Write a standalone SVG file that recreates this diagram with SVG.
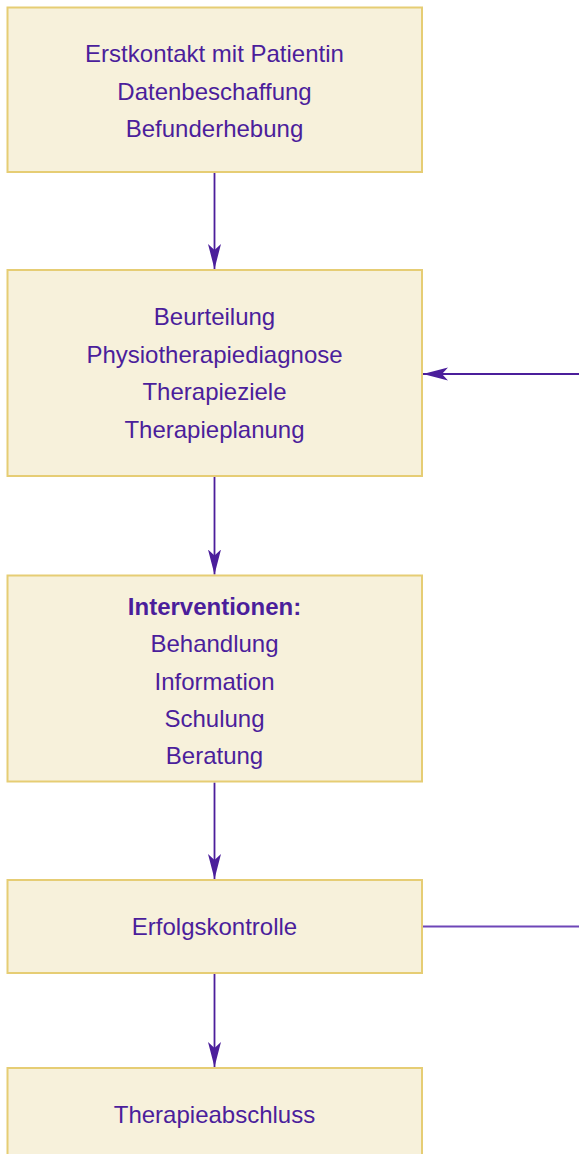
<svg xmlns="http://www.w3.org/2000/svg" width="579" height="1154" viewBox="0 0 579 1154">
<style>
.box{fill:#F7F1DB;stroke:#E6CD74;stroke-width:2}
.t{font-family:"Liberation Sans",Arial,sans-serif;font-size:24px;fill:#4B1E9B;text-anchor:middle}
.b{font-weight:bold}
.c{stroke:#4B1E9B;stroke-width:1.8;fill:none}
</style>
<defs>
<marker id="ah" markerUnits="userSpaceOnUse" markerWidth="26" markerHeight="16" viewBox="0 0 26 16" refX="25" refY="8" orient="auto">
<path d="M0,1.5 L25,8 L0,14.5 L6,8 Z" fill="#4B1E9B"/>
</marker>
</defs>
<rect width="579" height="1154" fill="#FFFFFF"/>
<g id="connectors">
<line class="c" x1="214.5" y1="173" x2="214.5" y2="269" marker-end="url(#ah)"/>
<line class="c" x1="214.5" y1="477" x2="214.5" y2="574.5" marker-end="url(#ah)"/>
<line class="c" x1="214.5" y1="782.5" x2="214.5" y2="879" marker-end="url(#ah)"/>
<line class="c" x1="214.5" y1="974" x2="214.5" y2="1067" marker-end="url(#ah)"/>
<line class="c" x1="579" y1="374" x2="423" y2="374" marker-end="url(#ah)"/>
<line class="c" x1="423" y1="926.5" x2="579" y2="926.5" style="stroke:#6E46B8"/>
</g>
<g id="n1">
<rect class="box" x="7.5" y="7.5" width="414.5" height="164.5"/>
<text class="t" x="214.5" y="62">Erstkontakt mit Patientin</text>
<text class="t" x="214.5" y="99.5">Datenbeschaffung</text>
<text class="t" x="214.5" y="137">Befunderhebung</text>
</g>
<g id="n2">
<rect class="box" x="7.5" y="270" width="414.5" height="206"/>
<text class="t" x="214.5" y="325">Beurteilung</text>
<text class="t" x="214.5" y="362.5">Physiotherapiediagnose</text>
<text class="t" x="214.5" y="400">Therapieziele</text>
<text class="t" x="214.5" y="437.5">Therapieplanung</text>
</g>
<g id="n3">
<rect class="box" x="7.5" y="575.5" width="414.5" height="206"/>
<text class="t b" x="214.5" y="615">Interventionen:</text>
<text class="t" x="214.5" y="652">Behandlung</text>
<text class="t" x="214.5" y="690">Information</text>
<text class="t" x="214.5" y="727">Schulung</text>
<text class="t" x="214.5" y="764">Beratung</text>
</g>
<g id="n4">
<rect class="box" x="7.5" y="880" width="414.5" height="93"/>
<text class="t" x="214.5" y="934.5">Erfolgskontrolle</text>
</g>
<g id="n5">
<rect class="box" x="7.5" y="1068" width="414.5" height="100"/>
<text class="t" x="214.5" y="1123">Therapieabschluss</text>
</g>
</svg>
